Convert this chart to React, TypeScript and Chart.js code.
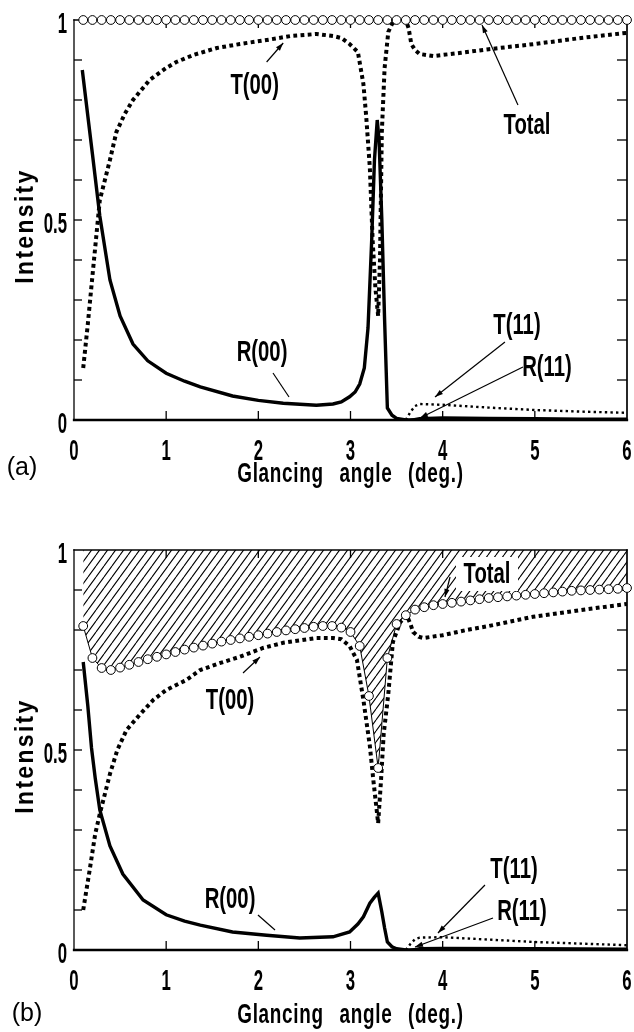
import React, { useEffect, useRef } from 'react';
import { Chart, registerables } from 'chart.js';

Chart.register(...registerables);

const FAMILY = "'Liberation Sans', Arial, sans-serif";

// ---------- data ----------
const xTicks = [0, 1, 2, 3, 4, 5, 6];
const yTickLabels = ['0', '0.5', '1'];
const xTitle = 'Glancing angle (deg.)';
const yTitle = 'Intensity';

const totalAngles = [0.1, 0.2, 0.3, 0.4, 0.5, 0.6, 0.7, 0.8, 0.9, 1.0, 1.1, 1.2, 1.3, 1.4, 1.5, 1.6, 1.7, 1.8, 1.9, 2.0,
  2.1, 2.2, 2.3, 2.4, 2.5, 2.6, 2.7, 2.8, 2.9, 3.0, 3.1, 3.2, 3.3, 3.4, 3.5, 3.6, 3.7, 3.8, 3.9, 4.0,
  4.1, 4.2, 4.3, 4.4, 4.5, 4.6, 4.7, 4.8, 4.9, 5.0, 5.1, 5.2, 5.3, 5.4, 5.5, 5.6, 5.7, 5.8, 5.9, 6.0];

// panel (a)
const totalA = [1, 1, 1, 1, 1, 1, 1, 1, 1, 1, 1, 1, 1, 1, 1, 1, 1, 1, 1, 1,
  1, 1, 1, 1, 1, 1, 1, 1, 1, 1, 1, 1, 1, 1, 1, 1, 1, 1, 1, 1,
  1, 1, 1, 1, 1, 1, 1, 1, 1, 1, 1, 1, 1, 1, 1, 1, 1, 1, 1, 1];

const t00A_x = [0.1, 0.15, 0.2, 0.28, 0.39, 0.46, 0.55, 0.64, 0.82, 1.0, 1.11, 1.3, 1.55, 1.8, 2.09, 2.35, 2.63, 2.81, 2.9, 2.99,
  3.08, 3.14, 3.17, 3.21, 3.24, 3.27, 3.3, 3.32, 3.34, 3.37, 3.41, 3.45, 3.5, 3.55, 3.6, 3.63, 3.66, 3.7, 3.75, 3.9,
  4.2, 4.5, 5.0, 5.5, 6.0];
const t00A_y = [0.13, 0.24, 0.36, 0.55, 0.65, 0.72, 0.765, 0.8, 0.85, 0.88, 0.895, 0.913, 0.93, 0.94, 0.95, 0.96, 0.965, 0.96, 0.955, 0.94,
  0.92, 0.84, 0.76, 0.63, 0.45, 0.33, 0.26, 0.4, 0.72, 0.88, 0.97, 0.99, 1.0, 1.0, 1.0, 0.98, 0.94, 0.925, 0.915, 0.91,
  0.918, 0.927, 0.94, 0.955, 0.968];

const r00A_x = [0.09, 0.15, 0.2, 0.28, 0.39, 0.5, 0.64, 0.8, 1.0, 1.2, 1.37, 1.72, 2.0, 2.27, 2.63, 2.81, 2.9, 2.99, 3.05, 3.1,
  3.15, 3.19, 3.23, 3.26, 3.29, 3.31, 3.34, 3.37, 3.4, 3.45, 3.5, 3.6, 4.0, 5.0, 6.0];
const r00A_y = [0.875, 0.76, 0.665, 0.51, 0.35, 0.26, 0.19, 0.148, 0.117, 0.097, 0.083, 0.06, 0.049, 0.042, 0.037, 0.04, 0.045, 0.058, 0.07, 0.09,
  0.13, 0.23, 0.45, 0.65, 0.75, 0.7, 0.5, 0.25, 0.03, 0.012, 0.004, 0, 0, 0, 0];

const t11A_x = [3.6, 3.65, 3.7, 3.75, 4.0, 4.5, 5.0, 5.5, 6.0];
const t11A_y = [0, 0.02, 0.035, 0.04, 0.038, 0.031, 0.025, 0.021, 0.018];

const r11A_x = [3.65, 3.75, 4.0, 4.5, 5.0, 5.5, 6.0];
const r11A_y = [0, 0.004, 0.006, 0.005, 0.004, 0.003, 0.003];

// panel (b)
const totalB = [0.81, 0.73, 0.705, 0.7, 0.706, 0.713, 0.72, 0.727, 0.733, 0.739, 0.745, 0.751, 0.756, 0.761, 0.766, 0.771, 0.775, 0.779, 0.783, 0.787,
  0.791, 0.795, 0.799, 0.802, 0.805, 0.808, 0.81, 0.81, 0.806, 0.795, 0.76, 0.635, 0.455, 0.73, 0.815, 0.837, 0.851, 0.857, 0.862, 0.865,
  0.868, 0.871, 0.874, 0.877, 0.88, 0.882, 0.884, 0.886, 0.888, 0.89, 0.892, 0.894, 0.896, 0.898, 0.899, 0.9, 0.901, 0.902, 0.903, 0.905];

const t00B_x = [0.1, 0.17, 0.23, 0.28, 0.39, 0.47, 0.57, 0.72, 0.86, 1.0, 1.22, 1.37, 1.58, 1.8, 2.05, 2.27, 2.63, 2.81, 2.9, 2.99,
  3.07, 3.14, 3.21, 3.25, 3.3, 3.33, 3.36, 3.41, 3.46, 3.54, 3.61, 3.65, 3.68, 3.74, 3.79, 4.0, 4.26, 4.5, 4.98, 5.5, 6.0];
const t00B_y = [0.1, 0.2, 0.29, 0.34, 0.44, 0.5, 0.55, 0.59, 0.625, 0.65, 0.675, 0.7, 0.717, 0.733, 0.755, 0.768, 0.78, 0.78, 0.777, 0.76,
  0.725, 0.625, 0.51, 0.42, 0.317, 0.42, 0.54, 0.64, 0.77, 0.82, 0.837, 0.815, 0.795, 0.783, 0.78, 0.787, 0.8, 0.81, 0.833, 0.85, 0.865];

const r00B_x = [0.1, 0.15, 0.19, 0.23, 0.28, 0.39, 0.53, 0.75, 1.0, 1.2, 1.37, 1.72, 2.09, 2.45, 2.81, 2.99, 3.08, 3.14, 3.21, 3.26,
  3.3, 3.34, 3.37, 3.4, 3.45, 3.5, 3.6, 6.0];
const r00B_y = [0.72, 0.61, 0.505, 0.43, 0.35, 0.26, 0.19, 0.125, 0.088, 0.072, 0.062, 0.045, 0.037, 0.03, 0.033, 0.045, 0.065, 0.083, 0.117, 0.132,
  0.142, 0.095, 0.055, 0.02, 0.008, 0.003, 0, 0];

const t11B_x = [3.6, 3.65, 3.7, 3.75, 4.0, 4.5, 5.0, 5.5, 6.0];
const t11B_y = [0, 0.015, 0.027, 0.031, 0.032, 0.026, 0.02, 0.016, 0.012];

const r11B_x = [3.65, 3.75, 4.0, 5.0, 6.0];
const r11B_y = [0, 0.004, 0.005, 0.004, 0.003];

// ---------- annotations (label centre, pointer from -> to, in data units) ----------
type Note = { text: string; x: number; y: number; from: [number, number]; to: [number, number]; head: boolean; box?: boolean };

const notesA: Note[] = [
  { text: 'T(00)', x: 1.96, y: 0.8375, from: [2.09, 0.895], to: [2.27, 0.9425], head: true },
  { text: 'Total', x: 4.915, y: 0.7375, from: [4.817, 0.7875], to: [4.427, 0.9875], head: true },
  { text: 'R(00)', x: 2.04, y: 0.17, from: [2.159, 0.1175], to: [2.333, 0.0575], head: false },
  { text: 'T(11)', x: 4.806, y: 0.2375, from: [4.676, 0.195], to: [3.917, 0.0575], head: true },
  { text: 'R(11)', x: 5.132, y: 0.1325, from: [4.871, 0.1325], to: [3.754, 0.005], head: true },
];
const notesB: Note[] = [
  { text: 'T(00)', x: 1.693, y: 0.625, from: [1.834, 0.6925], to: [2.018, 0.7325], head: true },
  { text: 'Total', x: 4.481, y: 0.94, from: [4.08, 0.9325], to: [4.025, 0.8825], head: true, box: true },
  { text: 'R(00)', x: 1.693, y: 0.1275, from: [1.996, 0.0875], to: [2.181, 0.05], head: false },
  { text: 'T(11)', x: 4.774, y: 0.2025, from: [4.459, 0.1625], to: [3.949, 0.0425], head: true },
  { text: 'R(11)', x: 4.861, y: 0.0975, from: [4.546, 0.08], to: [3.70, 0.0075], head: true },
];

const pts = (xs: number[], ys: number[]) => xs.map((x, i) => ({ x, y: ys[i] }));

function hatchPattern(): CanvasPattern | string {
  const c = document.createElement('canvas');
  const w = 8;
  const h = 11;
  c.width = w;
  c.height = h;
  const g = c.getContext('2d');
  if (!g) return 'rgba(0,0,0,0.2)';
  g.strokeStyle = '#000';
  g.lineWidth = 1.1;
  g.beginPath();
  g.moveTo(0, h);
  g.lineTo(w, 0);
  g.moveTo(-w, h);
  g.lineTo(0, 0);
  g.moveTo(w, h);
  g.lineTo(2 * w, 0);
  g.stroke();
  const p = g.createPattern(c, 'repeat');
  return p || 'rgba(0,0,0,0.2)';
}

function line(ctx: CanvasRenderingContext2D, x1: number, y1: number, x2: number, y2: number) {
  ctx.beginPath();
  ctx.moveTo(x1, y1);
  ctx.lineTo(x2, y2);
  ctx.stroke();
}

type TextOpt = { size: number; sx: number; weight?: string; align?: CanvasTextAlign; spacing?: number; wordSpacing?: number; rotate?: boolean; family?: string };

function drawText(ctx: any, text: string, x: number, y: number, o: TextOpt) {
  ctx.save();
  ctx.translate(x, y);
  if (o.rotate) ctx.rotate(-Math.PI / 2);
  ctx.scale(o.sx, 1);
  ctx.font = `${o.weight || 'normal'} ${o.size}px ${o.family || FAMILY}`;
  try {
    ctx.letterSpacing = `${o.spacing || 0}px`;
    ctx.wordSpacing = `${o.wordSpacing || 0}px`;
  } catch (e) {
    /* ignore */
  }
  ctx.textAlign = o.align || 'center';
  ctx.textBaseline = 'alphabetic';
  ctx.fillStyle = '#000';
  ctx.fillText(text, 0, 0);
  ctx.restore();
}

const framePlugin = {
  id: 'frame',
  beforeDatasetsDraw(chart: any) {
    const { ctx, chartArea: a, scales } = chart;
    const xs = scales.x;
    const ys = scales.y;
    ctx.save();
    ctx.strokeStyle = '#000';
    ctx.lineCap = 'square';
    ctx.lineWidth = 1.3;
    line(ctx, a.left, a.top, a.left, a.bottom);
    ctx.lineWidth = 1.7;
    line(ctx, a.right, a.top, a.right, a.bottom);
    ctx.lineWidth = 1.4;
    line(ctx, a.left, a.top, a.right, a.top);
    ctx.lineWidth = 2.3;
    line(ctx, a.left, a.bottom, a.right, a.bottom);
    ctx.lineCap = 'butt';
    ctx.lineWidth = 1.3;
    xs.ticks.forEach((t: any) => {
      const px = xs.getPixelForValue(t.value);
      if (px <= a.left + 1 || px >= a.right - 1) return;
      line(ctx, px, a.bottom, px, a.bottom - 9);
      line(ctx, px, a.top, px, a.top + 8);
    });
    ys.ticks.forEach((t: any) => {
      const py = ys.getPixelForValue(t.value);
      if (py <= a.top + 1 || py >= a.bottom - 1) return;
      line(ctx, a.left, py, a.left + 8, py);
      line(ctx, a.right, py, a.right - 10, py);
    });
    ctx.restore();
  },
};

function makeTextPlugin(notes: Note[], tag: string, tagX: number, tagY: number, titleBase: number) {
  return {
    id: 'texts',
    afterDatasetsDraw(chart: any) {
      const { ctx, scales, chartArea: a } = chart;
      const xs = scales.x;
      const ys = scales.y;
      // tick labels from the library scales
      xs.ticks.forEach((t: any) => {
        const px = xs.getPixelForValue(t.value);
        drawText(ctx, String(t.label), px, a.bottom + 40, { size: 30, sx: 0.56, weight: 'bold' });
      });
      ys.ticks.forEach((t: any) => {
        const lbl = String(t.label || '');
        if (!lbl) return;
        const py = ys.getPixelForValue(t.value);
        drawText(ctx, lbl, 67, py + 13, { size: 30, sx: 0.56, weight: 'bold', align: 'right' });
      });
      // axis titles
      drawText(ctx, xTitle, (a.left + a.right) / 2, titleBase, { size: 27, sx: 0.7, weight: 'bold', spacing: 1, wordSpacing: 14 });
      drawText(ctx, yTitle, 33, (a.top + a.bottom) / 2 + 6, { size: 25, sx: 0.92, weight: 'bold', spacing: 2.5, rotate: true });

      // annotations
      ctx.save();
      notes.forEach((n) => {
        const cx = xs.getPixelForValue(n.x);
        const cy = ys.getPixelForValue(n.y);
        if (n.box) {
          ctx.fillStyle = '#fff';
          ctx.fillRect(cx - 31, cy - 17, 62, 34);
        }
        drawText(ctx, n.text, cx, cy + 9, { size: 29, sx: 0.7, weight: 'bold' });
        const x1 = xs.getPixelForValue(n.from[0]);
        const y1 = ys.getPixelForValue(n.from[1]);
        const x2 = xs.getPixelForValue(n.to[0]);
        const y2 = ys.getPixelForValue(n.to[1]);
        ctx.strokeStyle = '#000';
        ctx.lineWidth = 1.2;
        line(ctx, x1, y1, x2, y2);
        if (n.head) {
          const ang = Math.atan2(y2 - y1, x2 - x1);
          const L = 8;
          const W = 2.6;
          ctx.beginPath();
          ctx.moveTo(x2, y2);
          ctx.lineTo(x2 - L * Math.cos(ang) + W * Math.sin(ang), y2 - L * Math.sin(ang) - W * Math.cos(ang));
          ctx.lineTo(x2 - L * Math.cos(ang) - W * Math.sin(ang), y2 - L * Math.sin(ang) + W * Math.cos(ang));
          ctx.closePath();
          ctx.fillStyle = '#000';
          ctx.fill();
        }
      });
      ctx.restore();
      drawText(ctx, tag, tagX, tagY, { size: 25, sx: 1, family: FAMILY });
    },
  };
}

function buildConfig(panel: 'a' | 'b'): any {
  const isA = panel === 'a';
  const total = isA ? totalA : totalB;
  const datasets: any[] = [
    {
      label: 'Total',
      data: pts(totalAngles, total),
      borderColor: '#000',
      borderWidth: 1,
      pointRadius: 4.4,
      pointBorderWidth: 1,
      pointBackgroundColor: '#fff',
      pointBorderColor: '#000',
      fill: isA ? false : 'end',
      backgroundColor: isA ? 'transparent' : hatchPattern(),
      clip: false,
    },
    {
      label: 'T(00)',
      data: isA ? pts(t00A_x, t00A_y) : pts(t00B_x, t00B_y),
      borderColor: '#000',
      borderWidth: 4,
      borderDash: [3.8, 3.4],
      pointRadius: 0,
      fill: false,
    },
    {
      label: 'R(00)',
      data: isA ? pts(r00A_x, r00A_y) : pts(r00B_x, r00B_y),
      borderColor: '#000',
      borderWidth: 3.4,
      pointRadius: 0,
      fill: false,
    },
    {
      label: 'T(11)',
      data: isA ? pts(t11A_x, t11A_y) : pts(t11B_x, t11B_y),
      borderColor: '#000',
      borderWidth: 2.4,
      borderDash: [2.4, 3.2],
      pointRadius: 0,
      fill: false,
    },
    {
      label: 'R(11)',
      data: isA ? pts(r11A_x, r11A_y) : pts(r11B_x, r11B_y),
      borderColor: '#000',
      borderWidth: 2.6,
      pointRadius: 0,
      fill: false,
    },
  ];
  const xH = isA ? 69 : 80;
  const textPlugin = isA
    ? makeTextPlugin(notesA, '(a)', 22, 475, 482)
    : makeTextPlugin(notesB, '(b)', 27, 521, 523);
  return {
    type: 'line',
    data: { datasets },
    options: {
      responsive: false,
      animation: false,
      events: [],
      layout: { padding: { left: 0, right: 7, top: isA ? 20 : 50, bottom: isA ? 11 : 2 } },
      plugins: {
        legend: { display: false },
        tooltip: { enabled: false },
        filler: { drawTime: 'beforeDatasetsDraw' },
      },
      scales: {
        x: {
          type: 'linear',
          min: 0,
          max: 6,
          grid: { display: false, drawTicks: false },
          border: { display: false },
          afterBuildTicks: (s: any) => {
            s.ticks = xTicks.map((v) => ({ value: v }));
          },
          afterFit: (s: any) => {
            s.height = xH;
            s.paddingLeft = 0;
            s.paddingRight = 0;
          },
          ticks: { display: false, autoSkip: false, callback: (v: number) => String(v) },
          title: { display: false },
        },
        y: {
          type: 'linear',
          min: 0,
          max: 1,
          grid: { display: false, drawTicks: false },
          border: { display: false },
          afterFit: (s: any) => {
            s.width = 74;
            s.paddingTop = 0;
            s.paddingBottom = 0;
          },
          ticks: {
            display: false,
            stepSize: 0.1,
            autoSkip: false,
            callback: (v: number) => {
              const k = Math.round(v * 10);
              if (k === 0) return yTickLabels[0];
              if (k === 5) return yTickLabels[1];
              if (k === 10) return yTickLabels[2];
              return '';
            },
          },
          title: { display: false },
        },
      },
    },
    plugins: [framePlugin, textPlugin],
  };
}

function Panel({ panel, top, height }: { panel: 'a' | 'b'; top: number; height: number }) {
  const ref = useRef<HTMLCanvasElement | null>(null);
  useEffect(() => {
    if (!ref.current) return;
    const chart = new Chart(ref.current, buildConfig(panel));
    return () => chart.destroy();
  }, [panel]);
  return (
    <canvas
      ref={ref}
      width={634}
      height={height}
      style={{ position: 'absolute', left: 0, top, width: 634, height, display: 'block' }}
    />
  );
}

export default function App() {
  return (
    <div style={{ position: 'absolute', left: 0, top: 0, width: 634, height: 1032, background: '#fff' }}>
      <Panel panel="a" top={0} height={500} />
      <Panel panel="b" top={500} height={532} />
    </div>
  );
}
